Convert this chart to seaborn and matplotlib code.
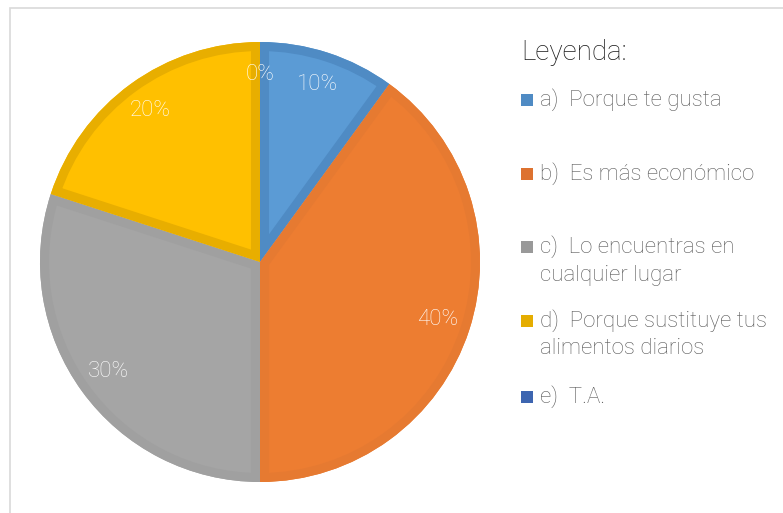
import matplotlib
matplotlib.use("Agg")
import matplotlib.pyplot as plt
from matplotlib.patches import Rectangle, Wedge
import seaborn as sns

categorias = ["a)  Porque te gusta",
              "b)  Es más económico",
              "c)  Lo encuentras en\ncualquier lugar",
              "d)  Porque sustituye tus\nalimentos diarios",
              "e)  T.A."]
porcentajes = [10, 40, 30, 20, 0]
colores = ["#5B9BD5", "#ED7D31", "#A5A5A5", "#FFC000", "#4472C4"]
bordes = ["#4F8BC4", "#E67A31", "#A0A0A0", "#E8AE00", "#3D65B0"]
marcas = ["#4F8BC4", "#DD7230", "#999999", "#E5AD00", "#3D65B0"]

sns.set_theme(style="white")
plt.rcParams["font.family"] = ["Roboto", "DejaVu Sans"]
peso = "light"

W, H = 783, 513
fig = plt.figure(figsize=(W / 100, H / 100), dpi=100)

# pie area: centre (260, 262) px, radius ~220 px
cx, cy, r = 260, 262, 220
lim = 1.02
ax = fig.add_axes([(cx - r * lim) / W, 1 - (cy + r * lim) / H,
                   2 * r * lim / W, 2 * r * lim / H])
wedges, textos, autotextos = ax.pie(porcentajes, colors=colores, startangle=90,
                                    counterclock=False, autopct="%1.0f%%",
                                    pctdistance=0.85,
                                    wedgeprops=dict(linewidth=0),
                                    textprops=dict(color="white", fontsize=16,
                                                   fontweight=peso))
# inner border like Excel: thick edge clipped to the wedge itself
for w, b, v in zip(wedges, bordes, porcentajes):
    if v == 0:
        continue
    borde = Wedge(w.center, w.r, w.theta1, w.theta2, facecolor="none",
                  edgecolor=b, linewidth=13)
    ax.add_patch(borde)
    borde.set_clip_path(w)
for t in autotextos:
    t.set_zorder(5)
ax.set_xlim(-lim, lim)
ax.set_ylim(-lim, lim)
ax.set_aspect("equal")

# chart frame
fig.patches.append(Rectangle((10 / W, -0.2), 1.2, 1.2 - 8 / H,
                             transform=fig.transFigure, fill=False,
                             edgecolor="#D9D9D9", linewidth=1.2))

# legend (Excel-style: marker aligned with first line)
fig.text(521 / W, 1 - 60 / H, "Leyenda:", fontsize=20, fontweight=peso,
         color="#1a1a1a", va="baseline", ha="left")
y_filas = [100, 174, 247, 321, 397]
for lab, col, yy in zip(categorias, marcas, y_filas):
    fig.patches.append(Rectangle((521 / W, 1 - (yy + 6) / H), 12 / W, 12 / H,
                                 transform=fig.transFigure, facecolor=col,
                                 edgecolor="none"))
    for i, linea in enumerate(lab.split("\n")):
        fig.text(540 / W, 1 - (yy + i * 28) / H, linea, fontsize=16,
                 fontweight=peso, color="#595959", va="center", ha="left")

fig.savefig("out.png", dpi=100, facecolor="white")
